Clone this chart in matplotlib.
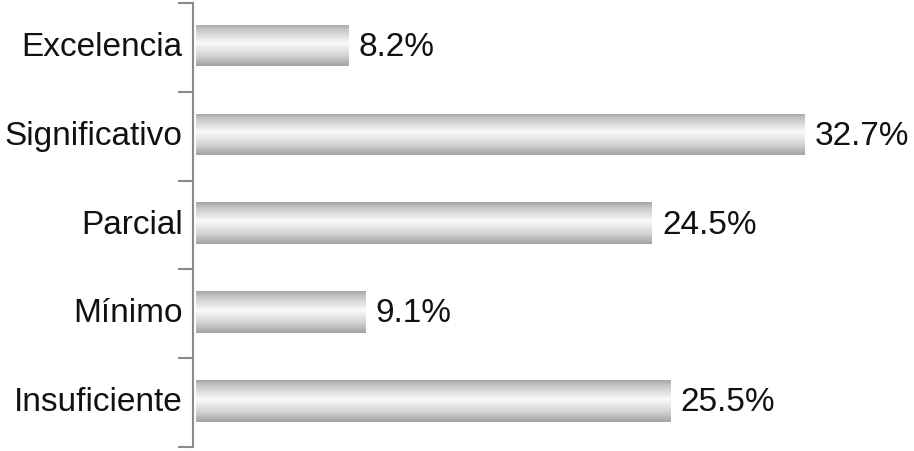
import numpy as np
import matplotlib
matplotlib.use("Agg")
import matplotlib.pyplot as plt
from matplotlib.colors import LinearSegmentedColormap

categories = ["Excelencia", "Significativo", "Parcial", "Mínimo", "Insuficiente"]
values = [8.2, 32.7, 24.5, 9.1, 25.5]
labels = ["8.2%", "32.7%", "24.5%", "9.1%", "25.5%"]

plt.rcParams["font.family"] = ["Liberation Sans", "DejaVu Sans"]

fig = plt.figure(figsize=(9.14, 4.51), dpi=100)
ax = fig.add_axes([193 / 914, 4 / 451, 1 - 193 / 914, 444 / 451])

# vertical metallic gradient: gray edges, white band near the middle
grad_cmap = LinearSegmentedColormap.from_list(
    "metal",
    [(0.0, "#a4a4a4"), (0.12, "#c4c4c4"), (0.45, "#fafafa"), (0.75, "#d4d4d4"), (1.0, "#a2a2a2")],
)
grad = np.linspace(0, 1, 256).reshape(-1, 1)

height = 0.47
y = np.arange(len(categories))
bars = ax.barh(y - 0.02, values, height=height, left=0, color="none", edgecolor="none")
for bar in bars:
    x0, y0 = bar.get_x(), bar.get_y()
    w, h = bar.get_width(), bar.get_height()
    im = ax.imshow(grad, cmap=grad_cmap, aspect="auto", extent=[x0, x0 + w, y0 + h, y0],
                   origin="upper", interpolation="bilinear", zorder=2)
    im.set_clip_path(bar)

for yi, v, lab in zip(y, values, labels):
    ax.annotate(lab, (v, yi), xytext=(7.5, 0), textcoords="offset points",
                va="center", ha="left", fontsize=24, color="#111111")
    ax.text(-0.7, yi, categories[yi], ha="right", va="center", fontsize=24,
            color="#111111")

ax.set_xlim(-0.15, 38.6)
ax.set_ylim(len(categories) - 0.5, -0.5)

for s in ["top", "right", "bottom"]:
    ax.spines[s].set_visible(False)
ax.spines["left"].set_color("#8a8a8a")
ax.spines["left"].set_linewidth(1.5)
ax.set_xticks([])
ax.set_yticks(np.arange(-0.5, len(categories), 1.0))
ax.set_yticklabels([])
ax.tick_params(axis="y", length=11, width=1.5, color="#8a8a8a", direction="out")

fig.savefig("out.png", dpi=100)
